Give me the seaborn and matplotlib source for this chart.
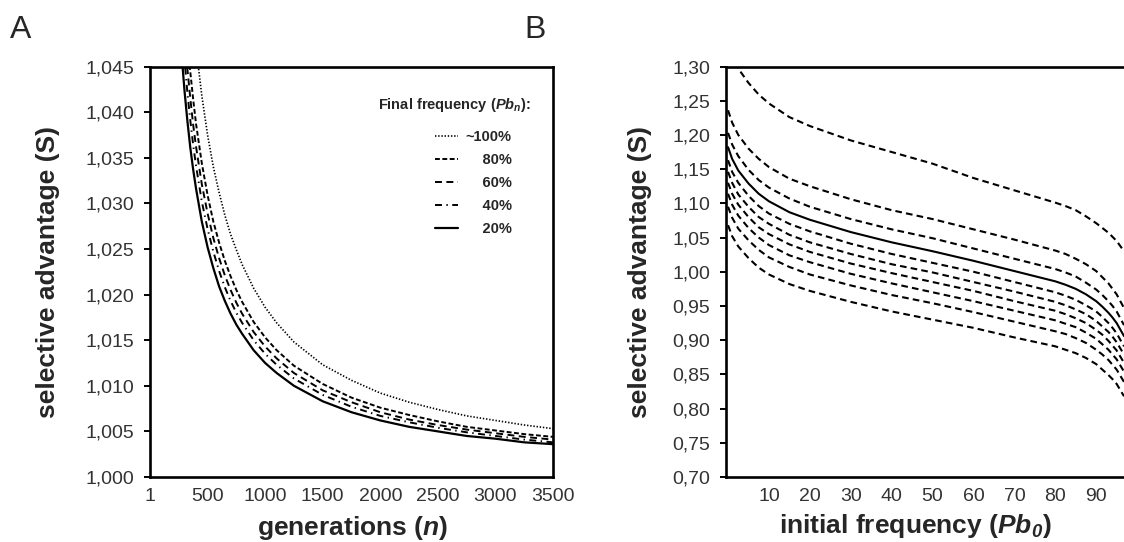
import numpy as np
import pandas as pd
import matplotlib
matplotlib.use("Agg")
import matplotlib.pyplot as plt
import seaborn as sns

# ---------------- data: panel A ----------------
generations = [250, 275, 300, 325, 350, 375, 400, 450, 500, 550, 600, 650, 700, 750, 800, 900, 1000,
               1100, 1250, 1500, 1750, 2000, 2250, 2500, 2750, 3000, 3250, 3500]
s_100 = [1.0764, 1.0692, 1.0633, 1.0583, 1.0540, 1.0503, 1.0471, 1.0418, 1.0375, 1.0340, 1.0312, 1.0287, 1.0266, 1.0249,
         1.0233, 1.0207, 1.0186, 1.0169, 1.0148, 1.0123, 1.0106, 1.0092, 1.0082, 1.0074, 1.0067, 1.0062, 1.0057, 1.0053]
s_80 = [1.0627, 1.0568, 1.0520, 1.0479, 1.0444, 1.0414, 1.0387, 1.0344, 1.0309, 1.0280, 1.0257, 1.0237, 1.0220, 1.0205,
        1.0192, 1.0170, 1.0153, 1.0139, 1.0122, 1.0102, 1.0087, 1.0076, 1.0068, 1.0061, 1.0055, 1.0051, 1.0047, 1.0044]
s_60 = [1.0585, 1.0531, 1.0485, 1.0447, 1.0415, 1.0386, 1.0362, 1.0321, 1.0289, 1.0262, 1.0240, 1.0221, 1.0205, 1.0191,
        1.0179, 1.0159, 1.0143, 1.0130, 1.0114, 1.0095, 1.0082, 1.0071, 1.0063, 1.0057, 1.0052, 1.0048, 1.0044, 1.0041]
s_40 = [1.0551, 1.0500, 1.0457, 1.0421, 1.0391, 1.0364, 1.0341, 1.0302, 1.0272, 1.0247, 1.0226, 1.0208, 1.0193, 1.0180,
        1.0169, 1.0150, 1.0135, 1.0123, 1.0108, 1.0090, 1.0077, 1.0067, 1.0060, 1.0054, 1.0049, 1.0045, 1.0041, 1.0038]
s_20 = [1.0510, 1.0462, 1.0423, 1.0390, 1.0361, 1.0337, 1.0316, 1.0280, 1.0252, 1.0229, 1.0209, 1.0193, 1.0179, 1.0167,
        1.0157, 1.0139, 1.0125, 1.0114, 1.0100, 1.0083, 1.0071, 1.0062, 1.0055, 1.0050, 1.0045, 1.0042, 1.0038, 1.0036]
final_freq_labels = ["~100%", "80%", "60%", "40%", "20%"]
a_xticks = [1, 500, 1000, 1500, 2000, 2500, 3000, 3500]
a_yticks = [1.000, 1.005, 1.010, 1.015, 1.020, 1.025, 1.030, 1.035, 1.040, 1.045]
a_yticklabels = ["1,000", "1,005", "1,010", "1,015", "1,020", "1,025", "1,030", "1,035", "1,040", "1,045"]

# ---------------- data: panel B ----------------
init_freq = [0, 1, 2.5, 5, 7.5, 10, 15, 20, 30, 40, 50, 60, 70, 80, 82.5, 85, 87.5, 90, 91.5, 93, 94, 95, 96.8]
b_top = [1.336, 1.316, 1.297, 1.276, 1.259, 1.246, 1.226, 1.213, 1.192, 1.175, 1.158, 1.137, 1.119, 1.101, 1.096, 1.090,
         1.081, 1.071, 1.064, 1.057, 1.051, 1.045, 1.030]
b_c2 = [1.236, 1.218, 1.200, 1.180, 1.165, 1.153, 1.136, 1.125, 1.106, 1.090, 1.077, 1.062, 1.047, 1.031, 1.026, 1.019,
        1.011, 1.001, 0.992, 0.983, 0.975, 0.967, 0.947]
b_c3 = [1.203, 1.186, 1.169, 1.149, 1.134, 1.123, 1.107, 1.095, 1.077, 1.062, 1.049, 1.034, 1.019, 1.004, 0.999, 0.993,
        0.984, 0.974, 0.966, 0.957, 0.950, 0.942, 0.922]
b_solid = [1.182, 1.165, 1.148, 1.129, 1.114, 1.103, 1.087, 1.076, 1.058, 1.043, 1.030, 1.016, 1.001, 0.986, 0.981, 0.975,
           0.967, 0.957, 0.949, 0.940, 0.933, 0.925, 0.906]
b_d1 = [1.163, 1.146, 1.130, 1.111, 1.096, 1.085, 1.070, 1.059, 1.041, 1.026, 1.013, 1.000, 0.985, 0.970, 0.965, 0.959,
        0.951, 0.942, 0.934, 0.925, 0.918, 0.910, 0.891]
b_d2 = [1.146, 1.130, 1.113, 1.095, 1.080, 1.070, 1.054, 1.043, 1.026, 1.011, 0.999, 0.985, 0.971, 0.956, 0.951, 0.945,
        0.938, 0.928, 0.920, 0.912, 0.905, 0.897, 0.879]
b_d3 = [1.130, 1.114, 1.098, 1.080, 1.065, 1.055, 1.040, 1.029, 1.012, 0.998, 0.985, 0.972, 0.957, 0.943, 0.938, 0.932,
        0.925, 0.915, 0.908, 0.899, 0.892, 0.885, 0.867]
b_d4 = [1.114, 1.098, 1.082, 1.064, 1.050, 1.039, 1.024, 1.014, 0.997, 0.983, 0.970, 0.957, 0.943, 0.929, 0.924, 0.919,
        0.911, 0.902, 0.894, 0.886, 0.879, 0.872, 0.854]
b_d5 = [1.095, 1.079, 1.063, 1.046, 1.032, 1.021, 1.007, 0.996, 0.980, 0.966, 0.954, 0.941, 0.927, 0.913, 0.909, 0.903,
        0.896, 0.886, 0.879, 0.871, 0.864, 0.857, 0.839]
b_d6 = [1.068, 1.052, 1.037, 1.020, 1.006, 0.996, 0.982, 0.972, 0.956, 0.942, 0.930, 0.918, 0.904, 0.891, 0.886, 0.881,
        0.874, 0.865, 0.857, 0.849, 0.843, 0.836, 0.818]
b_xticks = [10, 20, 30, 40, 50, 60, 70, 80, 90]
b_yticks = [0.70, 0.75, 0.80, 0.85, 0.90, 0.95, 1.00, 1.05, 1.10, 1.15, 1.20, 1.25, 1.30]
b_yticklabels = ["0,70", "0,75", "0,80", "0,85", "0,90", "0,95", "1,00", "1,05", "1,10", "1,15", "1,20", "1,25", "1,30"]

# ---------------- style ----------------
sns.set_theme(style="white")
plt.rcParams["font.family"] = ["Liberation Sans", "DejaVu Sans"]
plt.rcParams["mathtext.fontset"] = "custom"
plt.rcParams["mathtext.rm"] = "Liberation Sans"
plt.rcParams["mathtext.it"] = "Liberation Sans:italic"
plt.rcParams["mathtext.bf"] = "Liberation Sans:bold"
if "mathtext.bfit" in plt.rcParams:
    plt.rcParams["mathtext.bfit"] = "Liberation Sans:italic:bold"
plt.rcParams["lines.scale_dashes"] = False

TICK_FS = 14
LABEL_FS = 19
TICK_COLOR = "#333333"

fig = plt.figure(figsize=(11.24, 5.42), dpi=100)
W, H = 1124, 542
axA = fig.add_axes([150 / W, (H - 477) / H, (553 - 150) / W, (477 - 66.5) / H])
axB = fig.add_axes([726 / W, (H - 477) / H, (1124 - 726) / W, (477 - 66.5) / H])

# ---------------- panel A ----------------
a_series = [s_100, s_80, s_60, s_40, s_20]
a_styles = [(0, (1.0, 1.3)), (0, (3.5, 1.8)), (0, (5.0, 3.2)), (0, (5.0, 3.2, 1.0, 3.2)), "-"]
a_widths = [1.2, 1.4, 1.4, 1.4, 1.6]
handles = []
for vals, ls, lw, lab in zip(a_series, a_styles, a_widths, final_freq_labels):
    sns.lineplot(x=generations, y=vals, ax=axA, color="black", linestyle=ls, linewidth=lw,
                 label=lab, legend=False)
    handles.append(axA.lines[-1])

axA.set_xlim(0, 3500)
axA.set_ylim(1.000, 1.045)
axA.set_xticks(a_xticks)
axA.set_xticklabels([str(t) for t in a_xticks])
axA.set_yticks(a_yticks)
axA.set_yticklabels(a_yticklabels)
axA.set_xlabel(r"generations ($\mathbfit{n}$)", fontsize=LABEL_FS, fontweight="bold")
axA.set_ylabel("selective advantage (S)", fontsize=LABEL_FS, fontweight="bold")
axA.xaxis.set_label_coords(0.502, -0.089)
axA.yaxis.set_label_coords(-0.223, 0.5)

legend_labels = ["~100%", "    80%", "    60%", "    40%", "    20%"]
leg = axA.legend(handles, legend_labels, loc="upper left", bbox_to_anchor=(0.707, 0.845),
                 frameon=False, borderpad=0, borderaxespad=0, handlelength=1.6,
                 handletextpad=0.5, labelspacing=0.62,
                 prop={"family": "Liberation Sans", "weight": "bold", "size": 10.5})
axA.text(0.565, 0.905, r"Final frequency ($\mathbfit{Pb}_{\mathbfit{n}}$):", transform=axA.transAxes,
         fontsize=10.5, fontweight="bold", ha="left", va="center")

# ---------------- panel B ----------------
b_series = [b_top, b_c2, b_c3, b_solid, b_d1, b_d2, b_d3, b_d4, b_d5, b_d6]
for i, vals in enumerate(b_series):
    if i == 3:
        sns.lineplot(x=init_freq, y=vals, ax=axB, color="black", linestyle="-", linewidth=1.5)
    else:
        sns.lineplot(x=init_freq, y=vals, ax=axB, color="black", linestyle=(0, (4.8, 3.0)),
                     linewidth=1.5)

axB.set_xlim(-0.5, 96.8)
axB.set_ylim(0.70, 1.30)
axB.set_xticks(b_xticks)
axB.set_xticklabels([str(t) for t in b_xticks])
axB.set_yticks(b_yticks)
axB.set_yticklabels(b_yticklabels)
axB.set_xlabel(r"initial frequency ($\mathbfit{Pb}_{\mathbfit{0}}$)", fontsize=LABEL_FS, fontweight="bold")
axB.set_ylabel("selective advantage (S)", fontsize=LABEL_FS, fontweight="bold")
axB.xaxis.set_label_coords(0.477, -0.086)
axB.yaxis.set_label_coords(-0.186, 0.5)
axB.spines["right"].set_visible(False)

for ax in (axA, axB):
    for name, sp in ax.spines.items():
        sp.set_color("black")
        sp.set_linewidth(1.9)
    ax.tick_params(axis="y", direction="out", length=4.5, width=1.4, color="black",
                   labelsize=TICK_FS, labelcolor=TICK_COLOR, pad=7, left=True)
    ax.tick_params(axis="x", length=0, labelsize=TICK_FS, labelcolor=TICK_COLOR, pad=8)
    ax.set_facecolor("white")
    ax.grid(False)

fig.text(10 / W, (H - 38) / H, "A", fontsize=23, ha="left", va="baseline")
fig.text(524 / W, (H - 38) / H, "B", fontsize=23, ha="left", va="baseline")

fig.savefig("out.png", dpi=100, facecolor="white")
